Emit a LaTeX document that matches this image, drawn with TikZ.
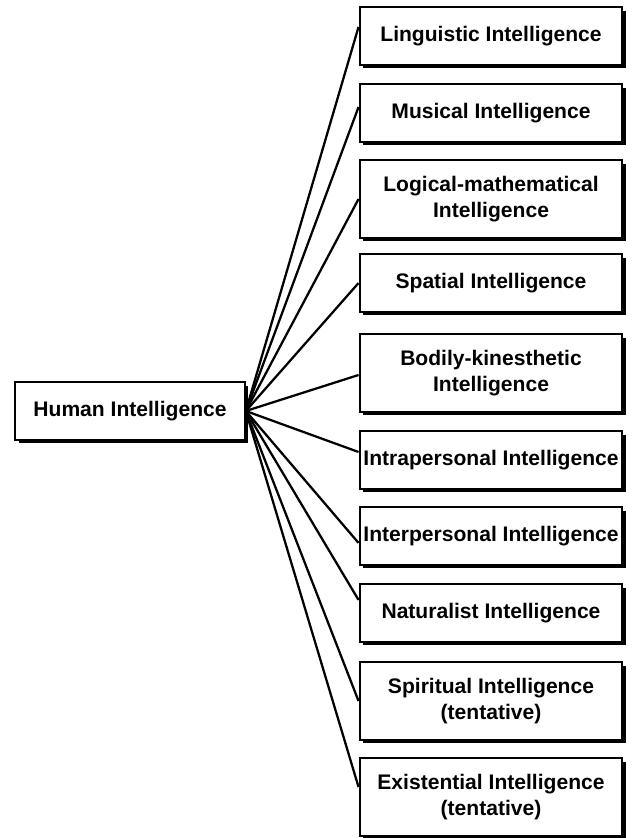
\documentclass[tikz,border=0pt]{standalone}
\usepackage{fontspec}
\setmainfont{Liberation Sans}
\usetikzlibrary{shadows}
\begin{document}
\begin{tikzpicture}[x=0.75pt,y=-0.75pt,
  box/.style={draw, line width=1.7pt, fill=white, align=center,
    font=\fontsize{15.8}{19}\selectfont\bfseries, inner sep=0pt,
    minimum height=43pt,
    drop shadow={shadow xshift=2.6pt, shadow yshift=-2.6pt, opacity=1, fill=black}},
  item/.style={box, minimum width=197pt},
  tall/.style={item, minimum height=58pt},
  link/.style={line width=1.7pt}]
\useasboundingbox (0,0) rectangle (634,838);

% root
\node[box, minimum width=172pt] (human) at (130,411) {Human Intelligence};

% branches
\node[item] (ling)  at (491,36)  {Linguistic Intelligence};
\node[item] (mus)   at (491,113) {Musical Intelligence};
\node[tall] (logic) at (491,199) {Logical-mathematical\\Intelligence};
\node[item] (spat)  at (491,283) {Spatial Intelligence};
\node[tall] (body)  at (491,373) {Bodily-kinesthetic\\Intelligence};
\node[item] (intra) at (491,460) {Intrapersonal Intelligence};
\node[item] (inter) at (491,536) {Interpersonal Intelligence};
\node[item] (nat)   at (491,613) {Naturalist Intelligence};
\node[tall] (spir)  at (491,701) {Spiritual Intelligence\\(tentative)};
\node[tall] (exist) at (491,797) {Existential Intelligence\\(tentative)};

% connectors fanning out from the root
\draw[link] (human.east) -- ([yshift=6.8pt]ling.west);
\draw[link] (human.east) -- ([yshift=4.5pt]mus.west);
\draw[link] (human.east) -- (logic.west);
\draw[link] (human.east) -- (spat.west);
\draw[link] (human.east) -- ([yshift=-1.5pt]body.west);
\draw[link] (human.east) -- ([yshift=6pt]intra.west);
\draw[link] (human.east) -- ([yshift=-5.2pt]inter.west);
\draw[link] (human.east) -- ([yshift=9.8pt]nat.west);
\draw[link] (human.east) -- (spir.west);
\draw[link] (human.east) -- ([yshift=7.5pt]exist.west);
\end{tikzpicture}
\end{document}
